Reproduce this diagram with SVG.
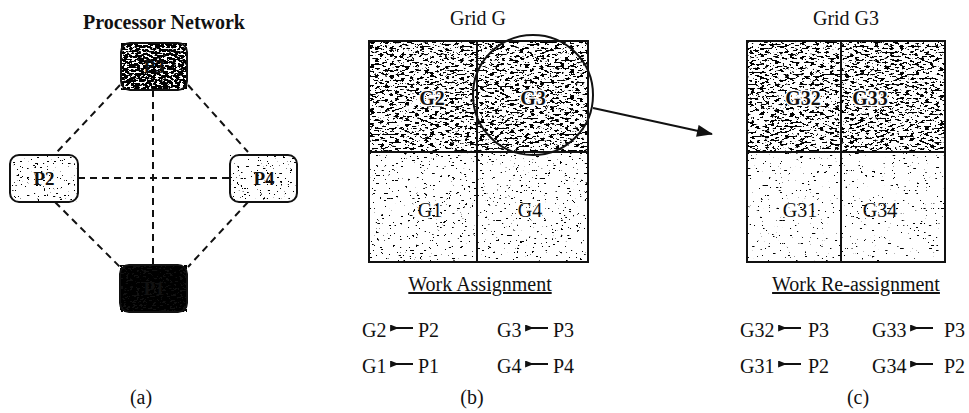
<svg xmlns="http://www.w3.org/2000/svg" width="969" height="413" viewBox="0 0 969 413">
<style>
.tx{font-family:"Liberation Serif","Times New Roman",serif;font-size:20px;fill:#111}
.tb{font-family:"Liberation Serif","Times New Roman",serif;font-size:20px;font-weight:bold;fill:#111}
.lb{font-family:"Liberation Serif","Times New Roman",serif;font-size:20px;fill:#111;text-anchor:middle}
.lh{font-family:"Liberation Serif","Times New Roman",serif;font-size:20px;font-weight:bold;fill:#111;text-anchor:middle;stroke:#fff;stroke-width:3;paint-order:stroke}
.nl{font-family:"Liberation Serif","Times New Roman",serif;font-size:19px;font-weight:bold;fill:#111;text-anchor:middle}
.box{fill:none;stroke:#111;stroke-width:2}
.nb{fill:none;stroke:#111;stroke-width:2}
.dash{stroke:#111;stroke-width:2;stroke-dasharray:7 5;fill:none}
.asg{stroke:#111;stroke-width:2;marker-start:url(#ah)}
</style>
<defs>
<marker id="ah" viewBox="0 0 10 8" refX="1" refY="4" markerWidth="10" markerHeight="7" markerUnits="userSpaceOnUse" orient="auto">
<path d="M10,0 L0,4 L10,8 Z" fill="#111" transform="rotate(180 5 4)"/>
</marker>
<marker id="big" viewBox="0 0 16 12" refX="15" refY="6" markerWidth="18" markerHeight="12" markerUnits="userSpaceOnUse" orient="auto">
<path d="M0,0 L16,6 L0,12 Z" fill="#111"/>
</marker>
<filter id="fD" x="0" y="0" width="1" height="1" color-interpolation-filters="sRGB">
<feTurbulence type="fractalNoise" baseFrequency="0.2 0.5" numOctaves="4" seed="7"/>
<feColorMatrix type="matrix" values="0 0 0 0 0 0 0 0 0 0 0 0 0 0 0 1 0 0 0 0"/>
<feComponentTransfer><feFuncA type="linear" slope="30" intercept="-16.5"/></feComponentTransfer>
</filter>
<filter id="fL" x="0" y="0" width="1" height="1" color-interpolation-filters="sRGB">
<feTurbulence type="fractalNoise" baseFrequency="0.25 0.6" numOctaves="3" seed="3"/>
<feColorMatrix type="matrix" values="0 0 0 0 0 0 0 0 0 0 0 0 0 0 0 1 0 0 0 0"/>
<feComponentTransfer><feFuncA type="linear" slope="30" intercept="-21"/></feComponentTransfer>
</filter>
<filter id="fV" x="0" y="0" width="1" height="1" color-interpolation-filters="sRGB">
<feTurbulence type="fractalNoise" baseFrequency="0.25 0.6" numOctaves="3" seed="11"/>
<feColorMatrix type="matrix" values="0 0 0 0 0 0 0 0 0 0 0 0 0 0 0 1 0 0 0 0"/>
<feComponentTransfer><feFuncA type="linear" slope="30" intercept="-21.6"/></feComponentTransfer>
</filter>
<filter id="fP" x="0" y="0" width="1" height="1" color-interpolation-filters="sRGB">
<feTurbulence type="fractalNoise" baseFrequency="0.3 0.6" numOctaves="3" seed="13"/>
<feColorMatrix type="matrix" values="0 0 0 0 0 0 0 0 0 0 0 0 0 0 0 1 0 0 0 0"/>
<feComponentTransfer><feFuncA type="linear" slope="30" intercept="-20.7"/></feComponentTransfer>
</filter>
<filter id="fH" x="0" y="0" width="1" height="1" color-interpolation-filters="sRGB">
<feTurbulence type="fractalNoise" baseFrequency="0.25 0.5" numOctaves="3" seed="5"/>
<feColorMatrix type="matrix" values="0 0 0 0 0 0 0 0 0 0 0 0 0 0 0 1 0 0 0 0"/>
<feComponentTransfer><feFuncA type="linear" slope="30" intercept="-13.2"/></feComponentTransfer>
</filter>
<filter id="fB" x="0" y="0" width="1" height="1" color-interpolation-filters="sRGB">
<feTurbulence type="fractalNoise" baseFrequency="0.3 0.6" numOctaves="3" seed="9"/>
<feColorMatrix type="matrix" values="0 0 0 0 0 0 0 0 0 0 0 0 0 0 0 1 0 0 0 0"/>
<feComponentTransfer><feFuncA type="linear" slope="30" intercept="-11.4"/></feComponentTransfer>
</filter>
</defs>
<rect width="969" height="413" fill="#fff"/>

<!-- Panel (a) -->
<text class="tb" x="164" y="29" text-anchor="middle">Processor Network</text>
<g id="connectors">
<line class="dash" x1="153" y1="90" x2="153" y2="265"/>
<line class="dash" x1="78" y1="178" x2="230" y2="178"/>
<line class="dash" x1="120" y1="85" x2="57" y2="152"/>
<line class="dash" x1="188" y1="85" x2="248" y2="152"/>
<line class="dash" x1="55" y1="202" x2="120" y2="267"/>
<line class="dash" x1="248" y1="202" x2="188" y2="267"/>
<line x1="593" y1="108" x2="712" y2="134" stroke="#111" stroke-width="2" marker-end="url(#big)"/>
</g>
<g id="P3">
<rect x="121" y="43" width="66" height="47" rx="9" fill="#fff"/>
<rect x="121" y="43" width="66" height="47" rx="9" filter="url(#fH)"/>
<text class="nl" x="154" y="73" fill="#222">P3</text>
<rect class="nb" x="121" y="43" width="66" height="47" rx="9"/>
</g>
<g id="P2">
<rect x="10" y="155" width="68" height="47" rx="9" fill="#fff"/>
<rect x="10" y="155" width="68" height="47" rx="9" filter="url(#fP)"/>
<text class="nl" x="44" y="185">P2</text>
<rect class="nb" x="10" y="155" width="68" height="47" rx="9"/>
</g>
<g id="P4">
<rect x="230" y="155" width="67" height="47" rx="9" fill="#fff"/>
<rect x="230" y="155" width="67" height="47" rx="9" filter="url(#fP)"/>
<text class="nl" x="264" y="185">P4</text>
<rect class="nb" x="230" y="155" width="67" height="47" rx="9"/>
</g>
<g id="P1">
<rect x="120" y="265" width="67" height="47" rx="9" fill="#111"/>
<rect x="120" y="265" width="67" height="47" rx="9" filter="url(#fB)"/>
<text class="nl" x="154" y="295" fill="#111">P1</text>
<rect class="nb" x="120" y="265" width="67" height="47" rx="9"/>
</g>
<text class="tx" x="141" y="404" text-anchor="middle">(a)</text>

<!-- Panel (b) -->
<text class="tx" x="478" y="25" text-anchor="middle">Grid G</text>
<g id="gridG">
<rect x="369" y="41" width="219" height="221" fill="#fff"/>
<rect x="369" y="41" width="219" height="111" filter="url(#fD)"/>
<rect x="369" y="152" width="219" height="110" filter="url(#fL)"/>
<text class="lh" x="432" y="105">G2</text>
<text class="lh" x="533" y="105">G3</text>
<text class="lb" x="430" y="217">G1</text>
<text class="lb" x="530" y="217">G4</text>
<rect class="box" x="369" y="41" width="219" height="221"/>
<line class="box" x1="477" y1="41" x2="477" y2="262"/>
<line class="box" x1="369" y1="152" x2="588" y2="152"/>
<circle cx="533" cy="95" r="60" fill="none" stroke="#111" stroke-width="2"/>
</g>
<text class="tx" x="480" y="291" text-anchor="middle" text-decoration="underline">Work Assignment</text>
<g id="assignB">
<text class="tx" x="362" y="337">G2</text><line class="asg" x1="391" y1="328" x2="413" y2="328"/><text class="tx" x="418" y="337">P2</text>
<text class="tx" x="497" y="337">G3</text><line class="asg" x1="526" y1="328" x2="548" y2="328"/><text class="tx" x="553" y="337">P3</text>
<text class="tx" x="362" y="373">G1</text><line class="asg" x1="391" y1="364" x2="413" y2="364"/><text class="tx" x="418" y="373">P1</text>
<text class="tx" x="497" y="373">G4</text><line class="asg" x1="526" y1="364" x2="548" y2="364"/><text class="tx" x="553" y="373">P4</text>
</g>
<text class="tx" x="472" y="404" text-anchor="middle">(b)</text>

<!-- Panel (c) -->
<text class="tx" x="846" y="25" text-anchor="middle">Grid G3</text>
<g id="gridG3">
<rect x="747" y="41" width="198" height="221" fill="#fff"/>
<rect x="747" y="41" width="198" height="111" filter="url(#fD)"/>
<rect x="747" y="152" width="198" height="110" filter="url(#fV)"/>
<text class="lh" x="803" y="105">G32</text>
<text class="lh" x="870" y="105">G33</text>
<text class="lb" x="800" y="217">G31</text>
<text class="lb" x="880" y="217">G34</text>
<rect class="box" x="747" y="41" width="198" height="221"/>
<line class="box" x1="841" y1="41" x2="841" y2="262"/>
<line class="box" x1="747" y1="152" x2="945" y2="152"/>
</g>
<text class="tx" x="856" y="291" text-anchor="middle" text-decoration="underline">Work Re-assignment</text>
<g id="assignC">
<text class="tx" x="740" y="337">G32</text><line class="asg" x1="779" y1="328" x2="801" y2="328"/><text class="tx" x="808" y="337">P3</text>
<text class="tx" x="872" y="337">G33</text><line class="asg" x1="911" y1="328" x2="933" y2="328"/><text class="tx" x="944" y="337">P3</text>
<text class="tx" x="740" y="373">G31</text><line class="asg" x1="779" y1="364" x2="801" y2="364"/><text class="tx" x="808" y="373">P2</text>
<text class="tx" x="872" y="373">G34</text><line class="asg" x1="911" y1="364" x2="933" y2="364"/><text class="tx" x="944" y="373">P2</text>
</g>
<text class="tx" x="858" y="404" text-anchor="middle">(c)</text>
</svg>
